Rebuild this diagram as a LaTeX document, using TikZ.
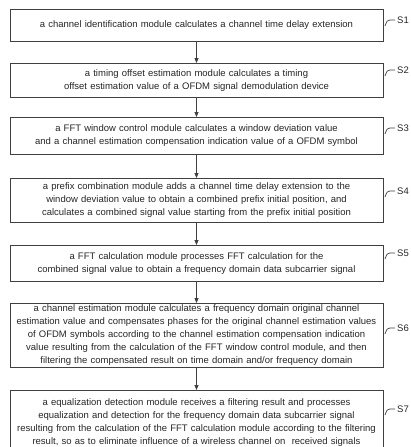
\documentclass[tikz,border=0pt]{standalone}
\usepackage{fontspec}
\setmainfont{Liberation Sans}
\usetikzlibrary{arrows.meta}

\begin{document}
\begin{tikzpicture}[x=1pt, y=-1pt]
        \tikzstyle{every node}=[inner sep=0pt, font=\fontsize{9.5}{13}\selectfont, text=black!85]
        \tikzstyle{stepbox}=[draw=black!75, line width=0.9pt, anchor=north, minimum width=373pt, text width=371pt, align=center]
        \tikzstyle{flow}=[draw=black!75, line width=0.8pt, -{Triangle[length=5pt, width=4pt]}]
        \tikzstyle{tick}=[draw=black!75, line width=0.7pt]
        \tikzstyle{steplabel}=[anchor=west]
        \useasboundingbox (0,0) rectangle (410,447);
        \node [stepbox, minimum height=32pt] (b1) at (196.5,9) {a channel identification module calculates a channel time delay extension};
        \node [stepbox, minimum height=34pt] (b2) at (196.5,63) {a timing offset estimation module calculates a timing\\offset estimation value of a OFDM signal demodulation device};
        \node [stepbox, minimum height=37pt] (b3) at (196.5,117) {a FFT window control module calculates a window deviation value\\and a channel estimation compensation indication value of a OFDM symbol};
        \node [stepbox, minimum height=44pt] (b4) at (196.5,178) {a prefix combination module adds a channel time delay extension to the\\window deviation value to obtain a combined prefix initial position, and\\calculates a combined signal value starting from the prefix initial position};
        \node [stepbox, minimum height=36pt] (b5) at (196.5,245) {a FFT calculation module processes FFT calculation for the\\combined signal value to obtain a frequency domain data subcarrier signal};
        \node [stepbox, minimum height=64pt] (b6) at (196.5,303) {a channel estimation module calculates a frequency domain original channel\\estimation value and compensates phases for the original channel estimation values\\of OFDM symbols according to the channel estimation compensation indication\\value resulting from the calculation of the FFT window control module, and then\\filtering the compensated result on time domain and/or frequency domain};
        \node [stepbox, minimum height=64pt] (b7) at (196.5,390) {a equalization detection module receives a filtering result and processes\\equalization and detection for the frequency domain data subcarrier signal\\resulting from the calculation of the FFT calculation module according to the filtering\\result, so as to eliminate influence of a wireless channel on~ received signals};
        % flow arrows
        \draw [flow] (b1) -- (b2);
        \draw [flow] (b2) -- (b3);
        \draw [flow] (b3) -- (b4);
        \draw [flow] (b4) -- (b5);
        \draw [flow] (b5) -- (b6);
        \draw [flow] (b6) -- (b7);
        % step labels
        \node [steplabel] (s1) at (397,20) {S1};
        \node [steplabel] (s2) at (397,70) {S2};
        \node [steplabel] (s3) at (397,128) {S3};
        \node [steplabel] (s4) at (397,191) {S4};
        \node [steplabel] (s5) at (397,253) {S5};
        \node [steplabel] (s6) at (397,328) {S6};
        \node [steplabel] (s7) at (397,409) {S7};
        \foreach \i in {1,...,7} {
            \coordinate (t\i) at ([xshift=-12pt, yshift=-6pt]s\i.west);
            \draw [tick] (t\i) .. controls +(2,-5) and +(-3,0) .. ([xshift=-7pt]s\i.west) -- ([xshift=-2pt]s\i.west);
        }
\end{tikzpicture}
\end{document}
